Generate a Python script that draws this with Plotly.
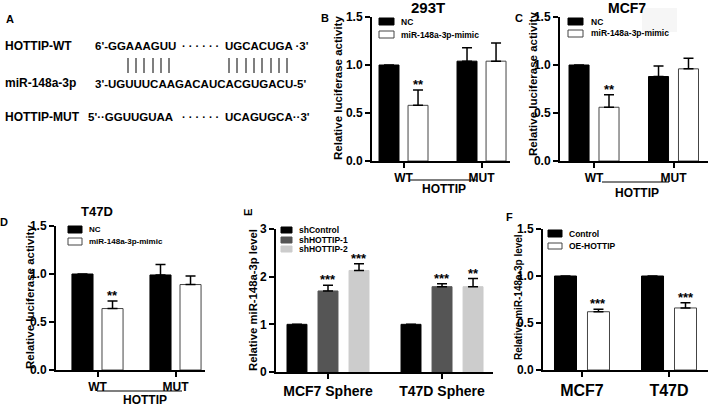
import plotly.graph_objects as go

W, H = 709, 406
FONT = "Liberation Sans, Arial, sans-serif"

# ---------------- DATA ----------------
# Panel B: 293T luciferase
b_categories = ["WT", "MUT"]
b_nc = [1.0, 1.04]
b_nc_err = [0.0, 0.14]
b_mimic = [0.58, 1.04]
b_mimic_err = [0.16, 0.19]
b_mimic_sig = ["**", ""]

# Panel C: MCF7 luciferase
c_categories = ["WT", "MUT"]
c_nc = [1.0, 0.88]
c_nc_err = [0.0, 0.11]
c_mimic = [0.56, 0.96]
c_mimic_err = [0.13, 0.11]
c_mimic_sig = ["**", ""]

# Panel D: T47D luciferase
d_categories = ["WT", "MUT"]
d_nc = [1.0, 0.99]
d_nc_err = [0.0, 0.11]
d_mimic = [0.64, 0.89]
d_mimic_err = [0.08, 0.09]
d_mimic_sig = ["**", ""]

# Panel E: spheres, knockdown
e_categories = ["MCF7 Sphere", "T47D Sphere"]
e_shcontrol = [1.0, 1.0]
e_shcontrol_err = [0.0, 0.0]
e_sh1 = [1.70, 1.79]
e_sh1_err = [0.12, 0.06]
e_sh1_sig = ["***", "***"]
e_sh2 = [2.13, 1.79]
e_sh2_err = [0.14, 0.17]
e_sh2_sig = ["***", "**"]

# Panel F: overexpression
f_categories = ["MCF7", "T47D"]
f_control = [1.0, 1.0]
f_control_err = [0.0, 0.0]
f_oe = [0.62, 0.66]
f_oe_err = [0.025, 0.055]
f_oe_sig = ["***", "***"]

luc_ticks = [0.0, 0.5, 1.0, 1.5]
e_ticks = [0, 1, 2, 3]

# ---------------- HELPERS ----------------
def X(p):
    return p / W


def Y(p):
    return 1 - p / H


fig = go.Figure()
annotations = []
shapes = []


def txt(x, y, text, size, xanchor="center", yanchor="middle", angle=0, color="black"):
    annotations.append(dict(
        x=X(x), y=Y(y), xref="paper", yref="paper", text=text, showarrow=False,
        xanchor=xanchor, yanchor=yanchor, textangle=angle,
        font=dict(family=FONT, size=size, color=color, weight="bold"),
    ))


def setup_axes(i, xpx, ypx, xr, yr, ticks, tickfmt, xfont, yfont):
    xa = "xaxis" if i == 1 else f"xaxis{i}"
    ya = "yaxis" if i == 1 else f"yaxis{i}"
    anchor_y = "y" if i == 1 else f"y{i}"
    anchor_x = "x" if i == 1 else f"x{i}"
    fig.update_layout(**{
        xa: dict(domain=[X(xpx[0]), X(xpx[1])], anchor=anchor_y, range=xr,
                 type="category", showline=True, linecolor="black", linewidth=2,
                 ticks="outside", ticklen=5, tickwidth=1.5, tickcolor="black",
                 showgrid=False, zeroline=False, automargin=False,
                 tickfont=dict(family=FONT, size=xfont, color="black", weight="bold")),
        ya: dict(domain=[Y(ypx[1]), Y(ypx[0])], anchor=anchor_x, range=yr,
                 showline=True, linecolor="black", linewidth=2,
                 ticks="outside", ticklen=5, tickwidth=1.5, tickcolor="black",
                 tickvals=ticks, tickformat=tickfmt,
                 showgrid=False, zeroline=False, automargin=False,
                 tickfont=dict(family=FONT, size=yfont, color="black", weight="bold")),
    })


def add_bars(i, cats, series, w, step):
    """series: list of (name, values, errs, sig, fill, line)"""
    xa = "x" if i == 1 else f"x{i}"
    ya = "y" if i == 1 else f"y{i}"
    n = len(series)
    for k, (name, vals, errs, sig, fill, line) in enumerate(series):
        center = (k - (n - 1) / 2) * step
        off = center - w / 2
        fig.add_trace(go.Bar(
            x=cats, y=vals, name=name, xaxis=xa, yaxis=ya, width=w, offset=off,
            marker=dict(color=fill, line=dict(color=line, width=1)),
            error_y=dict(type="data", array=errs, arrayminus=[0] * len(errs),
                         symmetric=False, color="black", thickness=1.5, width=5),
            showlegend=False,
        ))
        if sig:
            for j, s in enumerate(sig):
                if s:
                    annotations.append(dict(
                        x=j + center, y=vals[j] + errs[j], xref=xa, yref=ya,
                        text=s, showarrow=False, xanchor="center", yanchor="bottom",
                        yshift=-4,
                        font=dict(family=FONT, size=13, color="black", weight="bold"),
                    ))


def legend_box(x0, y0, x1, y1, fill, line):
    shapes.append(dict(type="rect", xref="paper", yref="paper",
                       x0=X(x0), x1=X(x1), y0=Y(y1), y1=Y(y0),
                       fillcolor=fill, line=dict(color=line, width=1)))


def hline(x0, x1, y, width=1.2, color="black"):
    shapes.append(dict(type="line", xref="paper", yref="paper",
                       x0=X(x0), x1=X(x1), y0=Y(y), y1=Y(y),
                       line=dict(color=color, width=width)))


def vline(x, y0, y1, width=1.5, color="#555555"):
    shapes.append(dict(type="line", xref="paper", yref="paper",
                       x0=X(x), x1=X(x), y0=Y(y0), y1=Y(y1),
                       line=dict(color=color, width=width)))


BLACK, WHITE = "black", "white"
WLINE = "#444444"

# ---------------- PANEL A ----------------
txt(10, 19, "A", 11)
txt(3, 46, "HOTTIP-WT", 12, xanchor="left")
txt(93, 46, "6'-GGAAAGUU", 11.5, xanchor="left")
txt(180, 46, "· · · · · ·", 11, xanchor="left")
txt(223, 46, "UGCACUGA ·3'", 11.5, xanchor="left")
for xb in [128, 136, 144, 153, 161, 169]:
    vline(xb, 58, 73)
for xb in [229, 237, 246, 254, 262, 271, 279, 287]:
    vline(xb, 58, 73)
txt(3, 83, "miR-148a-3p", 12, xanchor="left")
txt(93, 84, "3'-UGUUUCAAGACAUCACGUGACU-5'", 11.5, xanchor="left")
txt(3, 117, "HOTTIP-MUT", 12, xanchor="left")
txt(86, 117, "5'··GGUUGUAA", 11.5, xanchor="left")
txt(180, 117, "· · · · · ·", 11, xanchor="left")
txt(223, 117, "UCAGUGCA··3'", 11.5, xanchor="left")

# ---------------- PANEL B ----------------
setup_axes(1, (372, 510), (17, 161), [-0.404, 1.365], [0, 1.5], luc_ticks, ".1f", 12, 12)
add_bars(1, b_categories, [
    ("NC", b_nc, b_nc_err, None, BLACK, BLACK),
    ("miR-148a-3p-mimic", b_mimic, b_mimic_err, b_mimic_sig, WHITE, WLINE),
], w=0.256, step=0.372)
txt(325, 18, "B", 11)
txt(428, 7, "293T", 15)
txt(338, 88, "Relative luciferase activity", 11.5, angle=-90)
legend_box(379, 18, 394, 25, BLACK, BLACK)
legend_box(379, 31, 394, 38, WHITE, WLINE)
txt(399, 21.5, "NC", 8.5, xanchor="left")
txt(399, 34.5, "miR-148a-3p-mimic", 8.5, xanchor="left")
hline(410, 477, 180)
txt(444, 189, "HOTTIP", 12)

# ---------------- PANEL C ----------------
# faint grey patch visible next to the MCF7 title in the original figure
shapes.append(dict(type="rect", xref="paper", yref="paper", layer="below",
                   x0=X(642), x1=X(677), y0=Y(32), y1=Y(8),
                   fillcolor="#f6f6f6", line=dict(width=0)))
setup_axes(2, (560, 708), (17, 161), [-0.428, 1.434], [0, 1.5], luc_ticks, ".1f", 12, 12)
add_bars(2, c_categories, [
    ("NC", c_nc, c_nc_err, None, BLACK, BLACK),
    ("miR-148a-3p-mimic", c_mimic, c_mimic_err, c_mimic_sig, WHITE, WLINE),
], w=0.252, step=0.377)
txt(519, 18, "C", 11)
txt(627, 8, "MCF7", 14)
txt(533, 84, "Relative luciferase activity", 11.5, angle=-90)
legend_box(568, 18, 583, 25, BLACK, BLACK)
legend_box(568, 30, 583, 37, WHITE, WLINE)
txt(589, 21.5, "NC", 8.5, xanchor="left")
txt(589, 33.5, "miR-148a-3p-mimic", 8.5, xanchor="left")
hline(602, 669, 182)
txt(637, 193, "HOTTIP", 12)

# ---------------- PANEL D ----------------
setup_axes(3, (56, 205), (226, 370), [-0.532, 1.378], [0, 1.5], luc_ticks, ".1f", 12, 12)
add_bars(3, d_categories, [
    ("NC", d_nc, d_nc_err, None, BLACK, BLACK),
    ("miR-148a-3p-mimic", d_mimic, d_mimic_err, d_mimic_sig, WHITE, WLINE),
], w=0.27, step=0.385)
txt(4, 222, "D", 11)
txt(97, 211, "T47D", 13)
txt(30, 297, "Relative luciferase activity", 11.5, angle=-90)
legend_box(68, 226, 82, 233, BLACK, BLACK)
legend_box(68, 238, 82, 245, WHITE, WLINE)
txt(87, 229.5, "NC", 8, xanchor="left")
txt(87, 241.5, "miR-148a-3p-mimic", 8, xanchor="left")
hline(97, 182, 391)
txt(145, 400, "HOTTIP", 12)

# ---------------- PANEL E ----------------
setup_axes(4, (276, 493), (229, 372), [-0.456, 1.447], [0, 3], e_ticks, "d", 14, 12)
add_bars(4, e_categories, [
    ("shControl", e_shcontrol, e_shcontrol_err, None, BLACK, BLACK),
    ("shHOTTIP-1", e_sh1, e_sh1_err, e_sh1_sig, "#555555", "#555555"),
    ("shHOTTIP-2", e_sh2, e_sh2_err, e_sh2_sig, "#cccccc", "#cccccc"),
], w=0.175, step=0.272)
txt(248, 213, "E", 11, angle=-90)
txt(253, 300, "Relative miR-148a-3p level", 11.3, angle=-90)
legend_box(281, 227, 292, 233, BLACK, BLACK)
legend_box(281, 237, 292, 243, "#555555", "#555555")
legend_box(281, 246, 292, 252, "#cccccc", "#cccccc")
txt(297, 230, "shControl", 8.5, xanchor="left")
txt(297, 240, "shHOTTIP-1", 8.5, xanchor="left")
txt(297, 249, "shHOTTIP-2", 8.5, xanchor="left")

# ---------------- PANEL F ----------------
setup_axes(5, (543, 708), (229, 370), [-0.448, 1.448], [0, 1.5], luc_ticks, ".1f", 16, 12)
add_bars(5, f_categories, [
    ("Control", f_control, f_control_err, None, BLACK, BLACK),
    ("OE-HOTTIP", f_oe, f_oe_err, f_oe_sig, WHITE, WLINE),
], w=0.253, step=0.379)
txt(509, 217, "F", 11)
txt(518, 297, "Relative miR-148a-3p level", 10, angle=-90)
legend_box(548, 230, 562, 237, BLACK, BLACK)
legend_box(548, 243, 562, 249, WHITE, WLINE)
txt(567, 233.5, "Control", 8.5, xanchor="left")
txt(567, 246, "OE-HOTTIP", 8.5, xanchor="left")

fig.update_layout(
    template="none",
    width=W, height=H, autosize=False,
    margin=dict(l=0, r=0, t=0, b=0, pad=0),
    paper_bgcolor="white", plot_bgcolor="white",
    barmode="overlay", showlegend=False,
    annotations=annotations, shapes=shapes,
    font=dict(family=FONT, color="black"),
)

# remove the browser's default 8px page margin so the 709x406 figure fills the window
fig.write_html("out.html",
               config={"displayModeBar": False},
               post_script="document.body.style.margin='0px';document.body.style.overflow='hidden';")
